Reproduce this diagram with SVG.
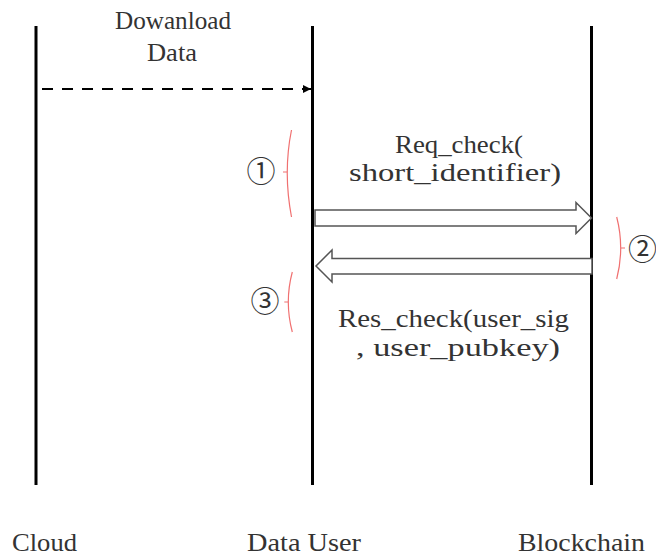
<svg xmlns="http://www.w3.org/2000/svg" width="656" height="559" viewBox="0 0 656 559">
  <style>
    .lifeline { stroke: #000; stroke-width: 3; }
    .label { font-family: "Liberation Serif", "DejaVu Serif", serif; font-size: 26px; fill: #333; }
    .step { font-family: "Noto Sans CJK SC", "DejaVu Sans", sans-serif; font-size: 29px; fill: #333; text-anchor: middle; }
    .block { fill: #fff; stroke: #555; stroke-width: 1.5; stroke-linejoin: miter; }
    .brace { fill: none; stroke: #f07070; stroke-width: 1.2; }
  </style>
  <defs>
    <marker id="head" viewBox="0 0 10 10" refX="10" refY="5" markerWidth="4" markerHeight="4" orient="auto" markerUnits="strokeWidth">
      <path d="M0,0 L10,5 L0,10 z" fill="#000"/>
    </marker>
  </defs>
  <rect width="656" height="559" fill="#fff"/>

  <!-- lifelines -->
  <g id="cloud">
    <line class="lifeline" x1="36" y1="26" x2="36" y2="485"/>
    <text class="label" x="12" y="551" textLength="65" lengthAdjust="spacingAndGlyphs">Cloud</text>
  </g>
  <g id="data-user">
    <line class="lifeline" x1="312.5" y1="26" x2="312.5" y2="485"/>
    <text class="label" x="247" y="551" textLength="114" lengthAdjust="spacingAndGlyphs">Data User</text>
  </g>
  <g id="blockchain">
    <line class="lifeline" x1="591.5" y1="26" x2="591.5" y2="485"/>
    <text class="label" x="518" y="551" textLength="127" lengthAdjust="spacingAndGlyphs">Blockchain</text>
  </g>

  <!-- messages -->
  <g id="connectors">
    <line x1="42" y1="89" x2="311" y2="89" stroke="#000" stroke-width="2" stroke-dasharray="11,9" marker-end="url(#head)"/>
    <polygon class="block" points="315,210 576,210 576,202.5 591.5,218 576,233.5 576,226 315,226"/>
    <polygon class="block" points="592,258.5 332,258.5 332,250 316,266 332,282 332,274 592,274"/>
  </g>

  <g id="download-label">
    <text class="label" x="115" y="29" textLength="116" lengthAdjust="spacingAndGlyphs">Dowanload</text>
    <text class="label" x="147" y="61" textLength="50" lengthAdjust="spacingAndGlyphs">Data</text>
  </g>
  <g id="request-label">
    <text class="label" x="395" y="153" textLength="128" lengthAdjust="spacingAndGlyphs">Req_check(</text>
    <text class="label" x="349" y="181" textLength="212" lengthAdjust="spacingAndGlyphs">short_identifier)</text>
  </g>
  <g id="response-label">
    <text class="label" x="338" y="327" textLength="231" lengthAdjust="spacingAndGlyphs">Res_check(user_sig</text>
    <text class="label" x="356" y="356" textLength="204" lengthAdjust="spacingAndGlyphs">, user_pubkey)</text>
  </g>

  <!-- step markers -->
  <g id="step-1">
    <path class="brace" d="M291.5,130 Q283,172 291.5,217 M287.3,172 H283"/>
    <text class="step" x="261" y="182">①</text>
  </g>
  <g id="step-2">
    <path class="brace" d="M616.7,217 Q624.7,248 616.7,279 M620.7,248 H625"/>
    <text class="step" x="642.5" y="260">②</text>
  </g>
  <g id="step-3">
    <path class="brace" d="M292.3,272 Q284.3,302 292.3,332 M288.3,302 H284.3"/>
    <text class="step" x="265" y="312">③</text>
  </g>
</svg>
